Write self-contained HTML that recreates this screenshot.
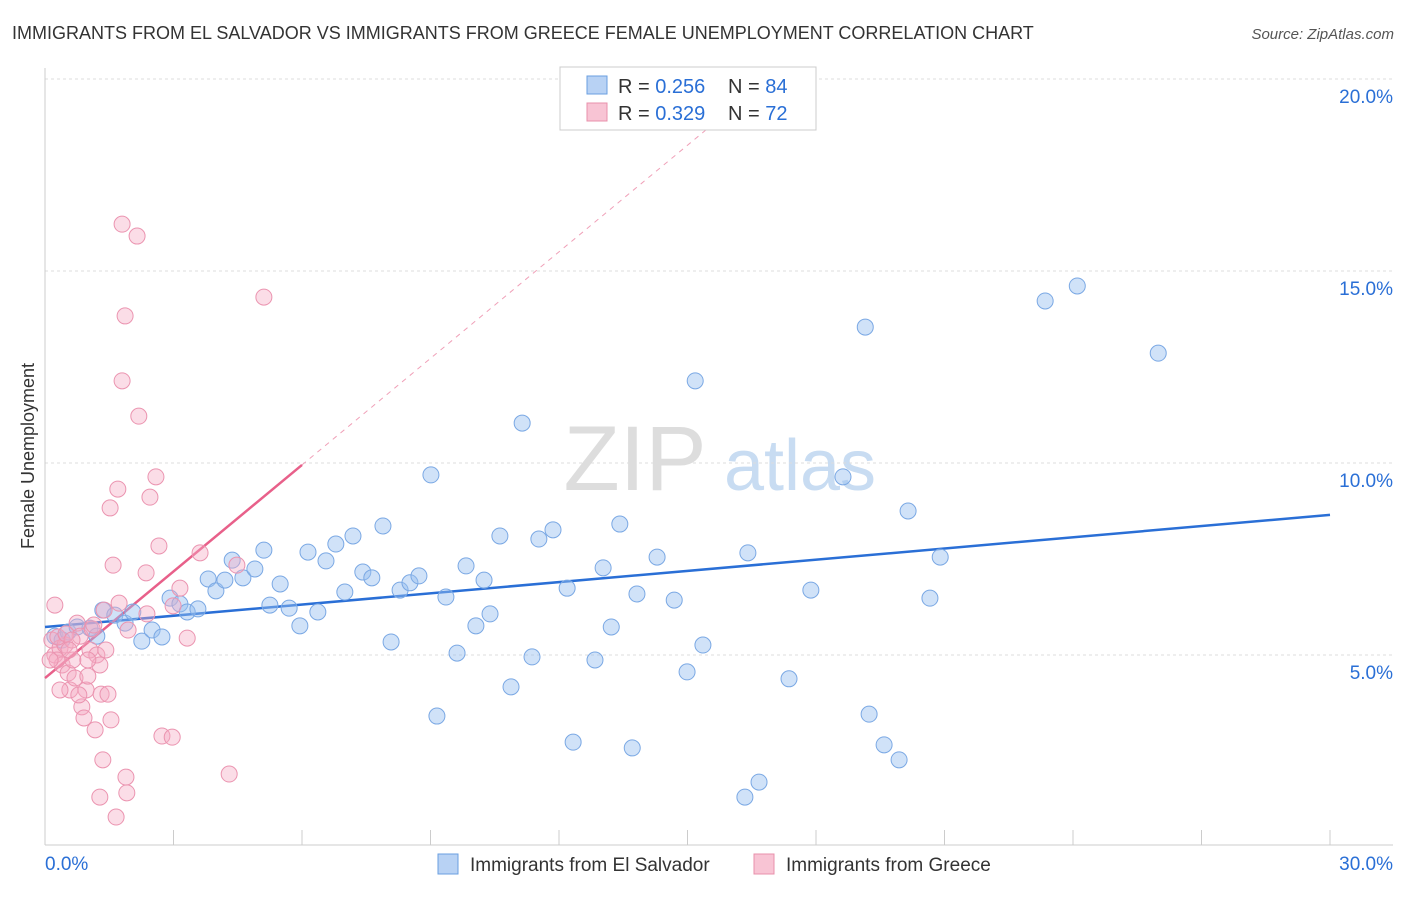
<!DOCTYPE html>
<html><head><meta charset="utf-8"><style>
body{margin:0;background:#fff;font-family:"Liberation Sans",sans-serif}
svg text{font-family:"Liberation Sans",sans-serif}
</style></head><body>
<svg id="chart" width="1406" height="892">
<text x="12" y="39" font-size="18" fill="#333">IMMIGRANTS FROM EL SALVADOR VS IMMIGRANTS FROM GREECE FEMALE UNEMPLOYMENT CORRELATION CHART</text>
<text x="1394" y="39" font-size="15" fill="#555" font-style="italic" text-anchor="end">Source: ZipAtlas.com</text>
<text x="34" y="456" font-size="18" fill="#333" text-anchor="middle" transform="rotate(-90 34 456)">Female Unemployment</text>
<g><text x="635" y="490" font-size="92" fill="#ddd" font-family="Liberation Serif,serif" text-anchor="middle">ZIP</text><text x="800" y="490" font-size="72" fill="#c8dcf2" text-anchor="middle">atlas</text></g>
<g id="grid"></g><g id="axes"></g><g id="trends"></g><g id="pts"></g>
<g>
<rect x="560" y="67" width="256" height="63" fill="#fff" stroke="#ccc"/>
<rect x="587" y="76" width="20" height="18" fill="#b8d2f4" stroke="#6a9fe0"/>
<rect x="587" y="103" width="20" height="18" fill="#f8c4d4" stroke="#e890ab"/>
<text x="618" y="93" font-size="20" fill="#333">R = <tspan fill="#2a6fd6">0.256</tspan></text>
<text x="728" y="93" font-size="20" fill="#333">N = <tspan fill="#2a6fd6">84</tspan></text>
<text x="618" y="120" font-size="20" fill="#333">R = <tspan fill="#2a6fd6">0.329</tspan></text>
<text x="728" y="120" font-size="20" fill="#333">N = <tspan fill="#2a6fd6">72</tspan></text>
</g>
<g>
<rect x="438" y="854" width="20" height="20" fill="#b8d2f4" stroke="#6a9fe0"/>
<text x="470" y="871" font-size="19" fill="#333">Immigrants from El Salvador</text>
<rect x="754" y="854" width="20" height="20" fill="#f8c4d4" stroke="#e890ab"/>
<text x="786" y="871" font-size="19" fill="#333">Immigrants from Greece</text>
</g>
</svg>
<script>
const xTicksLabels=["0.0%","30.0%"];
const yTickValues=[5,10,15,20];
const blueX=[0.23,0.40,0.54,0.75,1.05,1.21,1.35,1.63,1.87,2.05,2.26,2.50,2.73,2.92,3.15,3.32,3.57,3.81,3.99,4.20,4.37,4.62,4.90,5.11,5.25,5.49,5.70,5.95,6.14,6.37,6.56,6.79,7.00,7.19,7.42,7.63,7.89,8.08,8.29,8.52,8.73,9.01,9.15,9.36,9.62,9.83,10.06,10.25,10.39,10.62,10.88,11.14,11.37,11.53,11.86,12.19,12.33,12.84,13.03,13.22,13.42,13.71,13.82,14.29,14.69,14.99,15.18,15.36,16.34,16.41,16.67,17.37,17.88,18.63,19.15,19.24,19.59,19.94,20.15,20.66,20.90,23.35,24.10,25.99];
const blueY=[5.49,5.39,5.60,5.73,5.70,5.49,6.17,6.04,5.83,6.12,5.36,5.65,5.47,6.48,6.33,6.12,6.20,6.98,6.67,6.95,7.47,7.01,7.24,7.73,6.30,6.85,6.22,5.76,7.68,6.12,7.45,7.89,6.64,8.10,7.16,7.01,8.36,5.34,6.69,6.88,7.06,9.69,3.41,6.51,5.05,7.32,5.76,6.95,6.07,8.10,4.17,11.04,4.95,8.02,8.26,6.74,2.73,4.87,7.27,5.73,8.41,2.58,6.59,7.55,6.43,4.56,12.14,5.26,1.30,7.66,1.69,4.38,6.69,9.64,13.54,3.46,2.66,2.27,8.75,6.48,7.55,14.22,14.61,12.86];
const pinkX=[0.23,0.16,0.23,0.35,0.40,0.28,0.47,0.54,0.58,0.65,0.70,0.75,0.82,0.86,0.91,0.96,1.00,1.05,1.10,1.17,1.21,1.28,1.31,1.35,1.38,1.42,1.47,1.52,1.54,1.59,1.70,1.73,1.80,1.87,1.80,1.89,1.91,1.94,2.15,2.19,2.36,2.38,2.45,2.59,2.66,2.73,2.97,2.99,3.15,3.32,3.62,4.30,4.48,5.11,1.28,1.66,0.12,0.30,0.49,0.63,1.00,1.14,0.35,0.56,0.79];
const pinkY=[6.30,5.39,5.00,5.18,4.74,4.87,5.26,4.53,4.09,4.87,4.40,5.83,5.49,3.65,3.36,4.09,4.45,5.13,5.68,3.05,5.00,4.74,3.98,2.27,6.17,5.13,3.98,8.83,3.31,7.34,9.32,6.35,12.14,13.83,16.22,1.82,1.41,5.65,15.91,11.22,7.14,6.07,9.11,9.64,7.84,2.89,2.86,6.28,6.74,5.44,7.66,1.90,7.34,14.32,1.30,0.78,4.87,5.47,5.55,5.39,4.87,5.78,4.09,5.13,3.96];
const blueTrend=[5.73,8.65]; // y at x=0 and x=30
const pinkTrend=[4.40,0.925]; // intercept, slope
const NS="http://www.w3.org/2000/svg";
const X=v=>45+v*1285/30, Y=v=>847-v*38.4;
function mk(tag,attrs,parent){const e=document.createElementNS(NS,tag);for(const k in attrs)e.setAttribute(k,attrs[k]);document.getElementById(parent).appendChild(e);return e;}
yTickValues.forEach(v=>{
 const l=mk('line',{x1:45,x2:1393,y1:Y(v),y2:Y(v),stroke:'#ddd','stroke-dasharray':'3,3'},'grid');
 
 
 const t=mk('text',{x:1393,y:Y(v)+24,'font-size':19,fill:'#2a6fd6','text-anchor':'end'},'grid');t.textContent=v.toFixed(1)+'%';
 
 
});
const ax=mk('line',{x1:45,x2:1393,y1:845,y2:845,stroke:'#ccc'},'axes');


const ay=mk('line',{x1:45,x2:45,y1:68,y2:845,stroke:'#ccc'},'axes');


for(let i=0;i<=10;i++){const t=mk('line',{x1:X(i*3),x2:X(i*3),y1:830,y2:845,stroke:'#ccc'},'axes');
 
 }
[[0,'start',xTicksLabels[0]],[30,'end',xTicksLabels[1]]].forEach(([v,a,s])=>{const t=mk('text',{x:v==0?X(v):1393,y:870,'font-size':19,fill:'#2a6fd6','text-anchor':a},'axes');t.textContent=s;
 
 });
blueX.forEach((x,i)=>{const c=mk('circle',{cx:X(x),cy:Y(blueY[i]),r:8,fill:'rgba(150,190,240,0.45)',stroke:'#7aa8e4','stroke-width':1},'pts');
 
 });
pinkX.forEach((x,i)=>{const c=mk('circle',{cx:X(x),cy:Y(pinkY[i]),r:8,fill:'rgba(245,170,195,0.4)',stroke:'#eb94b0','stroke-width':1},'pts');
 
 });
const bt=mk('line',{x1:X(0),y1:Y(blueTrend[0]),x2:X(30),y2:Y(blueTrend[1]),stroke:'#2a6fd6','stroke-width':2.5},'trends');


const pe=(18.8-pinkTrend[0])/pinkTrend[1];
const pd=mk('line',{x1:X(6),y1:Y(pinkTrend[0]+6*pinkTrend[1]),x2:X(pe),y2:Y(18.8),stroke:'#f0a0b8','stroke-width':1,'stroke-dasharray':'5,5'},'trends');


const pt=mk('line',{x1:X(0),y1:Y(pinkTrend[0]),x2:X(6),y2:Y(pinkTrend[0]+6*pinkTrend[1]),stroke:'#e8608a','stroke-width':2.5},'trends');


</script>
</body></html>
